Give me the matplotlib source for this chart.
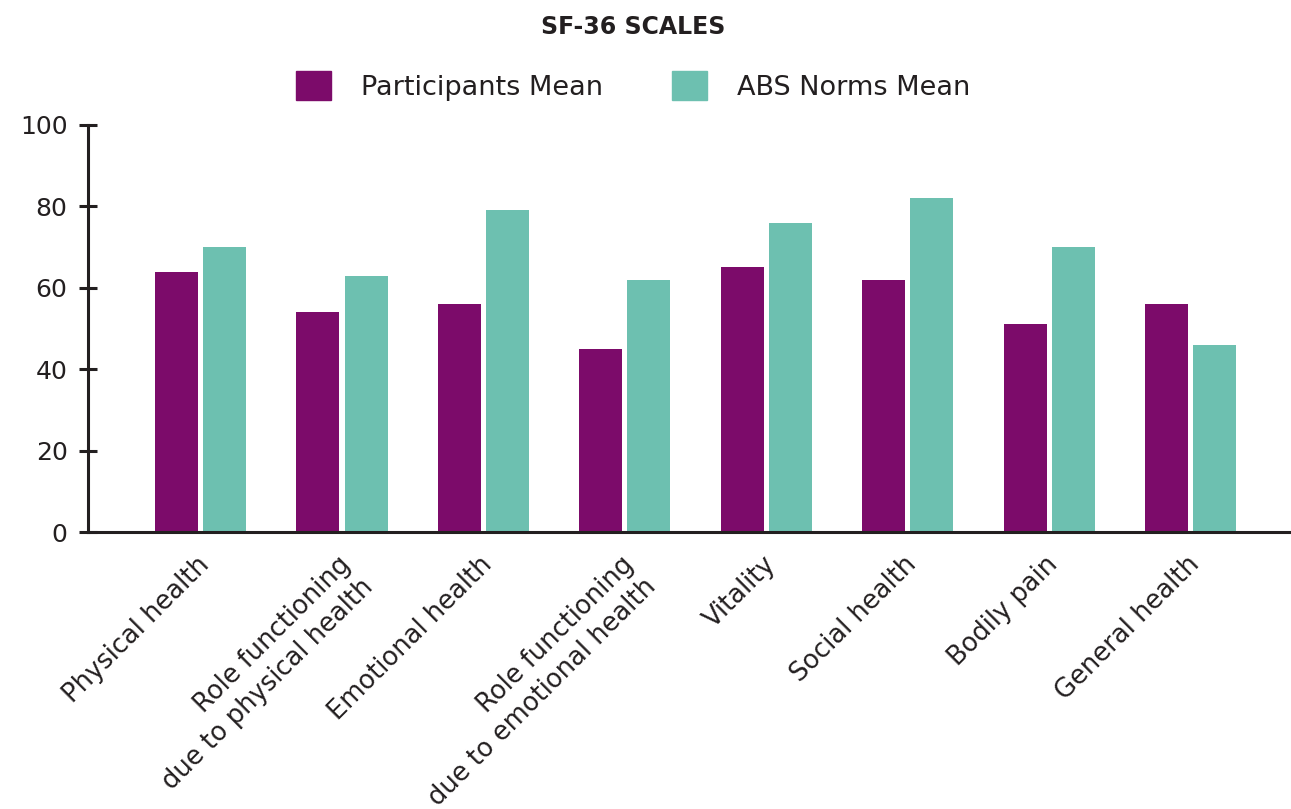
import matplotlib
matplotlib.use("Agg")
import matplotlib.pyplot as plt
import matplotlib.transforms as mtransforms
from matplotlib.patches import Patch
import numpy as np

categories = ["Physical health", "Role functioning\ndue to physical health",
              "Emotional health", "Role functioning\ndue to emotional health",
              "Vitality", "Social health", "Bodily pain", "General health"]
participants = [64, 54, 56, 45, 65, 62, 51, 56]
abs_norms = [70, 63, 79, 62, 76, 82, 70, 46]
yticks = [0, 20, 40, 60, 80, 100]

purple = "#7c0b6a"
teal = "#6dc0b0"
dark = "#231f20"

plt.rcParams['font.family'] = ['DejaVu Sans']

fig = plt.figure(figsize=(12.91, 8.09), dpi=100)
ax = fig.add_axes([88/1291, 1-532/809, 1-88/1291, (532-125)/809])

x = np.arange(len(categories))
w = 0.304
ax.bar(x - 0.17, participants, w, color=purple, zorder=2)
ax.bar(x + 0.17, abs_norms, w, color=teal, zorder=2)

ax.set_xlim(-0.796, 7.71)
ax.set_ylim(0, 100)
ax.set_yticks(yticks)
ax.set_yticklabels([str(v) for v in yticks], fontsize=18, color=dark)
ax.tick_params(axis='y', direction='inout', length=13.5, width=2.2, color=dark, pad=8)

ax.set_xticks(x)
ax.set_xticklabels(categories, fontsize=18.5, color=dark, rotation=45,
                   ha='right', va='top', rotation_mode='anchor',
                   multialignment='right', linespacing=1.3)
ax.tick_params(axis='x', length=0, pad=14)
offset = mtransforms.ScaledTranslation(-0.04, 0, fig.dpi_scale_trans)
for lbl in ax.get_xticklabels():
    lbl.set_transform(lbl.get_transform() + offset)

for s in ['top', 'right']:
    ax.spines[s].set_visible(False)
for s in ['left', 'bottom']:
    ax.spines[s].set_linewidth(2.2)
    ax.spines[s].set_color(dark)

fig.text(633/1291, 1-27/809, "SF-36 SCALES", ha='center', va='center',
         fontsize=17, fontweight='bold', color=dark)

handles = [Patch(color=purple), Patch(color=teal)]
fig.legend(handles, ["Participants Mean", "ABS Norms Mean"], loc='center',
           bbox_to_anchor=(633/1291, 1-86/809), ncol=2, frameon=False,
           fontsize=19.5, handlelength=1.29, handleheight=1.29, handletextpad=1.1,
           columnspacing=2.55, labelcolor=dark)

fig.savefig("out.png", dpi=100)
